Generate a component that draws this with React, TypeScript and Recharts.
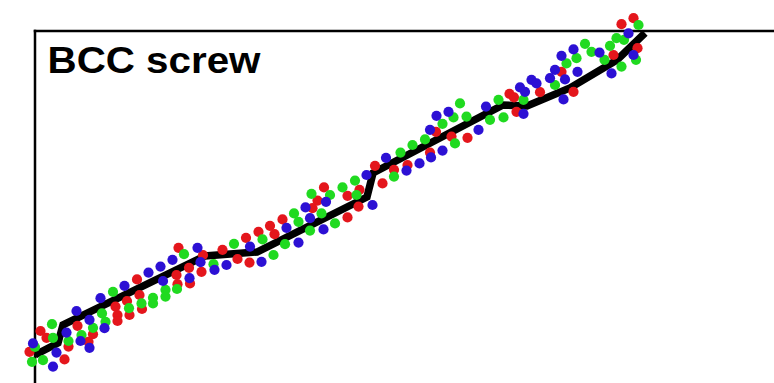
import React from "react";
import {
  ComposedChart,
  Scatter,
  Line,
  XAxis,
  YAxis,
  ReferenceLine,
} from "recharts";

// Title
const title = "BCC screw";

// Averaged path (black line): [time, position]
const meanPath: [number, number][] = [
  [0, 0], [4.6, 3], [5.6, 7.5], [34, 24.75], [44.4, 25.75], [66.4, 39.5],
  [67.6, 45.5], [93.6, 62.5], [98.4, 62.25], [107, 66.75], [116.4, 73.75], [122, 80.5],
];

// Run 1 (red)
const redRun: [number, number][] = [
  [-1.1, 0.8], [1.1, 6], [2.3, 4.3], [5.9, -1.1], [6.7, 2.1], [8.5, 7.3], [10.7, 3.3],
  [11.6, 5.2], [16.1, 12.1], [16.5, 10], [16.5, 8.5], [18.4, 13.5], [18.9, 10],
  [20.4, 18.9], [20.9, 15], [21.4, 11.5], [28.3, 20], [28.7, 26.8], [28.5, 17.7],
  [31, 17.9], [30.8, 21.8], [33.3, 20.8], [33.6, 25], [37.5, 26.3], [40.5, 24],
  [42.2, 29.3], [42.9, 23.1], [44.7, 30.8], [47, 32.3], [47.9, 30.2], [49.5, 33.9],
  [55.5, 36.7], [56.5, 38.6], [57.8, 41.9], [62.5, 39.8], [62.5, 34.4], [64.9, 41.3],
  [64.7, 37.1], [68, 47.3], [69.5, 42.9], [71.8, 46.3], [74.5, 47.5], [79, 50.6],
  [80.2, 55.8], [83.3, 54.6], [86.5, 54.3], [94.9, 65.3], [95.8, 64.4], [96.3, 60.8],
  [101, 65.7], [105.3, 70.8], [107.7, 65.8], [115.7, 75], [117.3, 82.7], [119.7, 84.2],
  [120.5, 76.7],
];

// Run 2 (green)
const greenRun: [number, number][] = [
  [-0.6, -1.7], [1.6, -1.3], [0, 2], [3.4, 7.7], [3.6, 4.3], [6.7, 3.5], [9.3, 5],
  [11.6, 6.8], [13.4, 10.4], [14.1, 8.3], [15.6, 15.8], [18.8, 11.7], [21.3, 12.9],
  [23.6, 14.3], [23.6, 12.9], [26.1, 16.3], [26.1, 14.6], [28.4, 16.5], [29.8, 25.2],
  [35.7, 22.7], [39.8, 27.8], [45.5, 28.9], [47.7, 25], [50, 27.7], [51.8, 35.4],
  [52.7, 33.3], [55, 31.1], [55.3, 40.3], [57.3, 35.4], [59, 40], [60, 32.9],
  [61.5, 41.9], [64, 43.6], [64.3, 40], [71.8, 44.6], [73.1, 50.6], [75.5, 52.5],
  [78, 53.9], [81.5, 57.8], [83.7, 59.4], [84, 52.9], [85, 62.9], [86.3, 59.6],
  [91, 58.8], [92.7, 63.8], [93.7, 59.4], [97.7, 63.8], [104, 67.5], [106.3, 72.9],
  [108.3, 74.2], [110, 77.8], [111.3, 75.8], [113.9, 73.8], [115, 77.3], [116.3, 79.2],
  [117.3, 72.1], [117.8, 78.8], [120.2, 73.8], [120.7, 82.5],
];

// Run 3 (blue)
const blueRun: [number, number][] = [
  [-0.4, 2.9], [3.6, -2.9], [4.3, 0.6], [6.3, 5.6], [8.3, 11], [9.1, 3.5], [10.9, 8.8],
  [10.9, 1.8], [13.1, 14.2], [13.9, 6.7], [17.9, 17.3], [22.7, 20.6], [25.1, 22.1],
  [25.6, 18.5], [27.5, 23.8], [30.9, 19.2], [32.5, 26.8], [33.1, 23.2], [35.9, 21.3],
  [38.3, 22.5], [43, 27.1], [45.3, 23.3], [50.3, 31.8], [52.7, 28.1], [54.1, 36.9],
  [55, 34.2], [57.7, 31.4], [58.2, 38.3], [66.3, 45], [67.5, 37.5], [70.2, 49.3],
  [74.3, 46.1], [76.9, 47.9], [79.2, 49.4], [79, 56.3], [80.3, 59.8], [81.5, 51.1],
  [82.7, 60.8], [88.7, 56.3], [90.2, 62.1], [97, 66.9], [98, 65.8], [97.7, 60.3],
  [99.3, 68.8], [100.3, 67.9], [103, 69.2], [104, 71.3], [105.3, 74.8], [105.7, 63.9],
  [106, 68.9], [107.7, 76.4], [108.5, 70.8], [112.9, 75.6], [115.3, 70.4], [118.7, 80.4],
  [119.7, 75],
];

// Frame corner (data units) and axis domains
const frameX = 0;
const frameY = 81;
const xDomain: [number, number] = [-7, 147.8];
const yDomain: [number, number] = [-7, 88.75];

const toRows = (pts: [number, number][]) => pts.map(([x, y]) => ({ x, y }));

const makeDot = (fill: string) => (props: any) => {
  const { cx, cy } = props;
  if (cx == null || cy == null) return <g />;
  return <circle cx={cx} cy={cy} r={5.1} fill={fill} />;
};

export default function App() {
  const W = 774;
  const H = 383;
  return (
    <div
      style={{
        position: "fixed",
        left: 0,
        top: 0,
        width: W,
        height: H,
        overflow: "hidden",
        background: "#ffffff",
      }}
    >
      <ComposedChart
        width={W}
        height={H}
        margin={{ top: 0, right: 0, bottom: 0, left: 0 }}
      >
        <XAxis
          type="number"
          dataKey="x"
          domain={xDomain}
          allowDataOverflow
          hide
        />
        <YAxis
          type="number"
          dataKey="y"
          domain={yDomain}
          allowDataOverflow
          hide
        />
        <ReferenceLine
          segment={[
            { x: frameX, y: frameY },
            { x: frameX, y: yDomain[0] },
          ]}
          stroke="#000"
          strokeWidth={2.5}
          strokeLinecap="square"
          ifOverflow="visible"
        />
        <ReferenceLine
          segment={[
            { x: frameX, y: frameY },
            { x: xDomain[1], y: frameY },
          ]}
          stroke="#000"
          strokeWidth={2.5}
          strokeLinecap="square"
          ifOverflow="visible"
        />
        <Scatter
          data={toRows(redRun)}
          dataKey="y"
          shape={makeDot("#e4161c")}
          isAnimationActive={false}
        />
        <Scatter
          data={toRows(greenRun)}
          dataKey="y"
          shape={makeDot("#20da20")}
          isAnimationActive={false}
        />
        <Scatter
          data={toRows(blueRun)}
          dataKey="y"
          shape={makeDot("#2c10d4")}
          isAnimationActive={false}
        />
        <Line
          data={toRows(meanPath)}
          dataKey="y"
          type="linear"
          stroke="#000"
          strokeWidth={7.5}
          dot={false}
          activeDot={false}
          isAnimationActive={false}
        />
      </ComposedChart>
      <svg
        width={W}
        height={H}
        style={{ position: "absolute", left: 0, top: 0, pointerEvents: "none" }}
      >
        <text
          x={47.5}
          y={72.7}
          fontFamily="'Liberation Sans', Arial, sans-serif"
          fontWeight="bold"
          fontSize={36.5}
          fill="#000"
          textLength={213}
          lengthAdjust="spacingAndGlyphs"
        >
          {title}
        </text>
      </svg>
    </div>
  );
}
